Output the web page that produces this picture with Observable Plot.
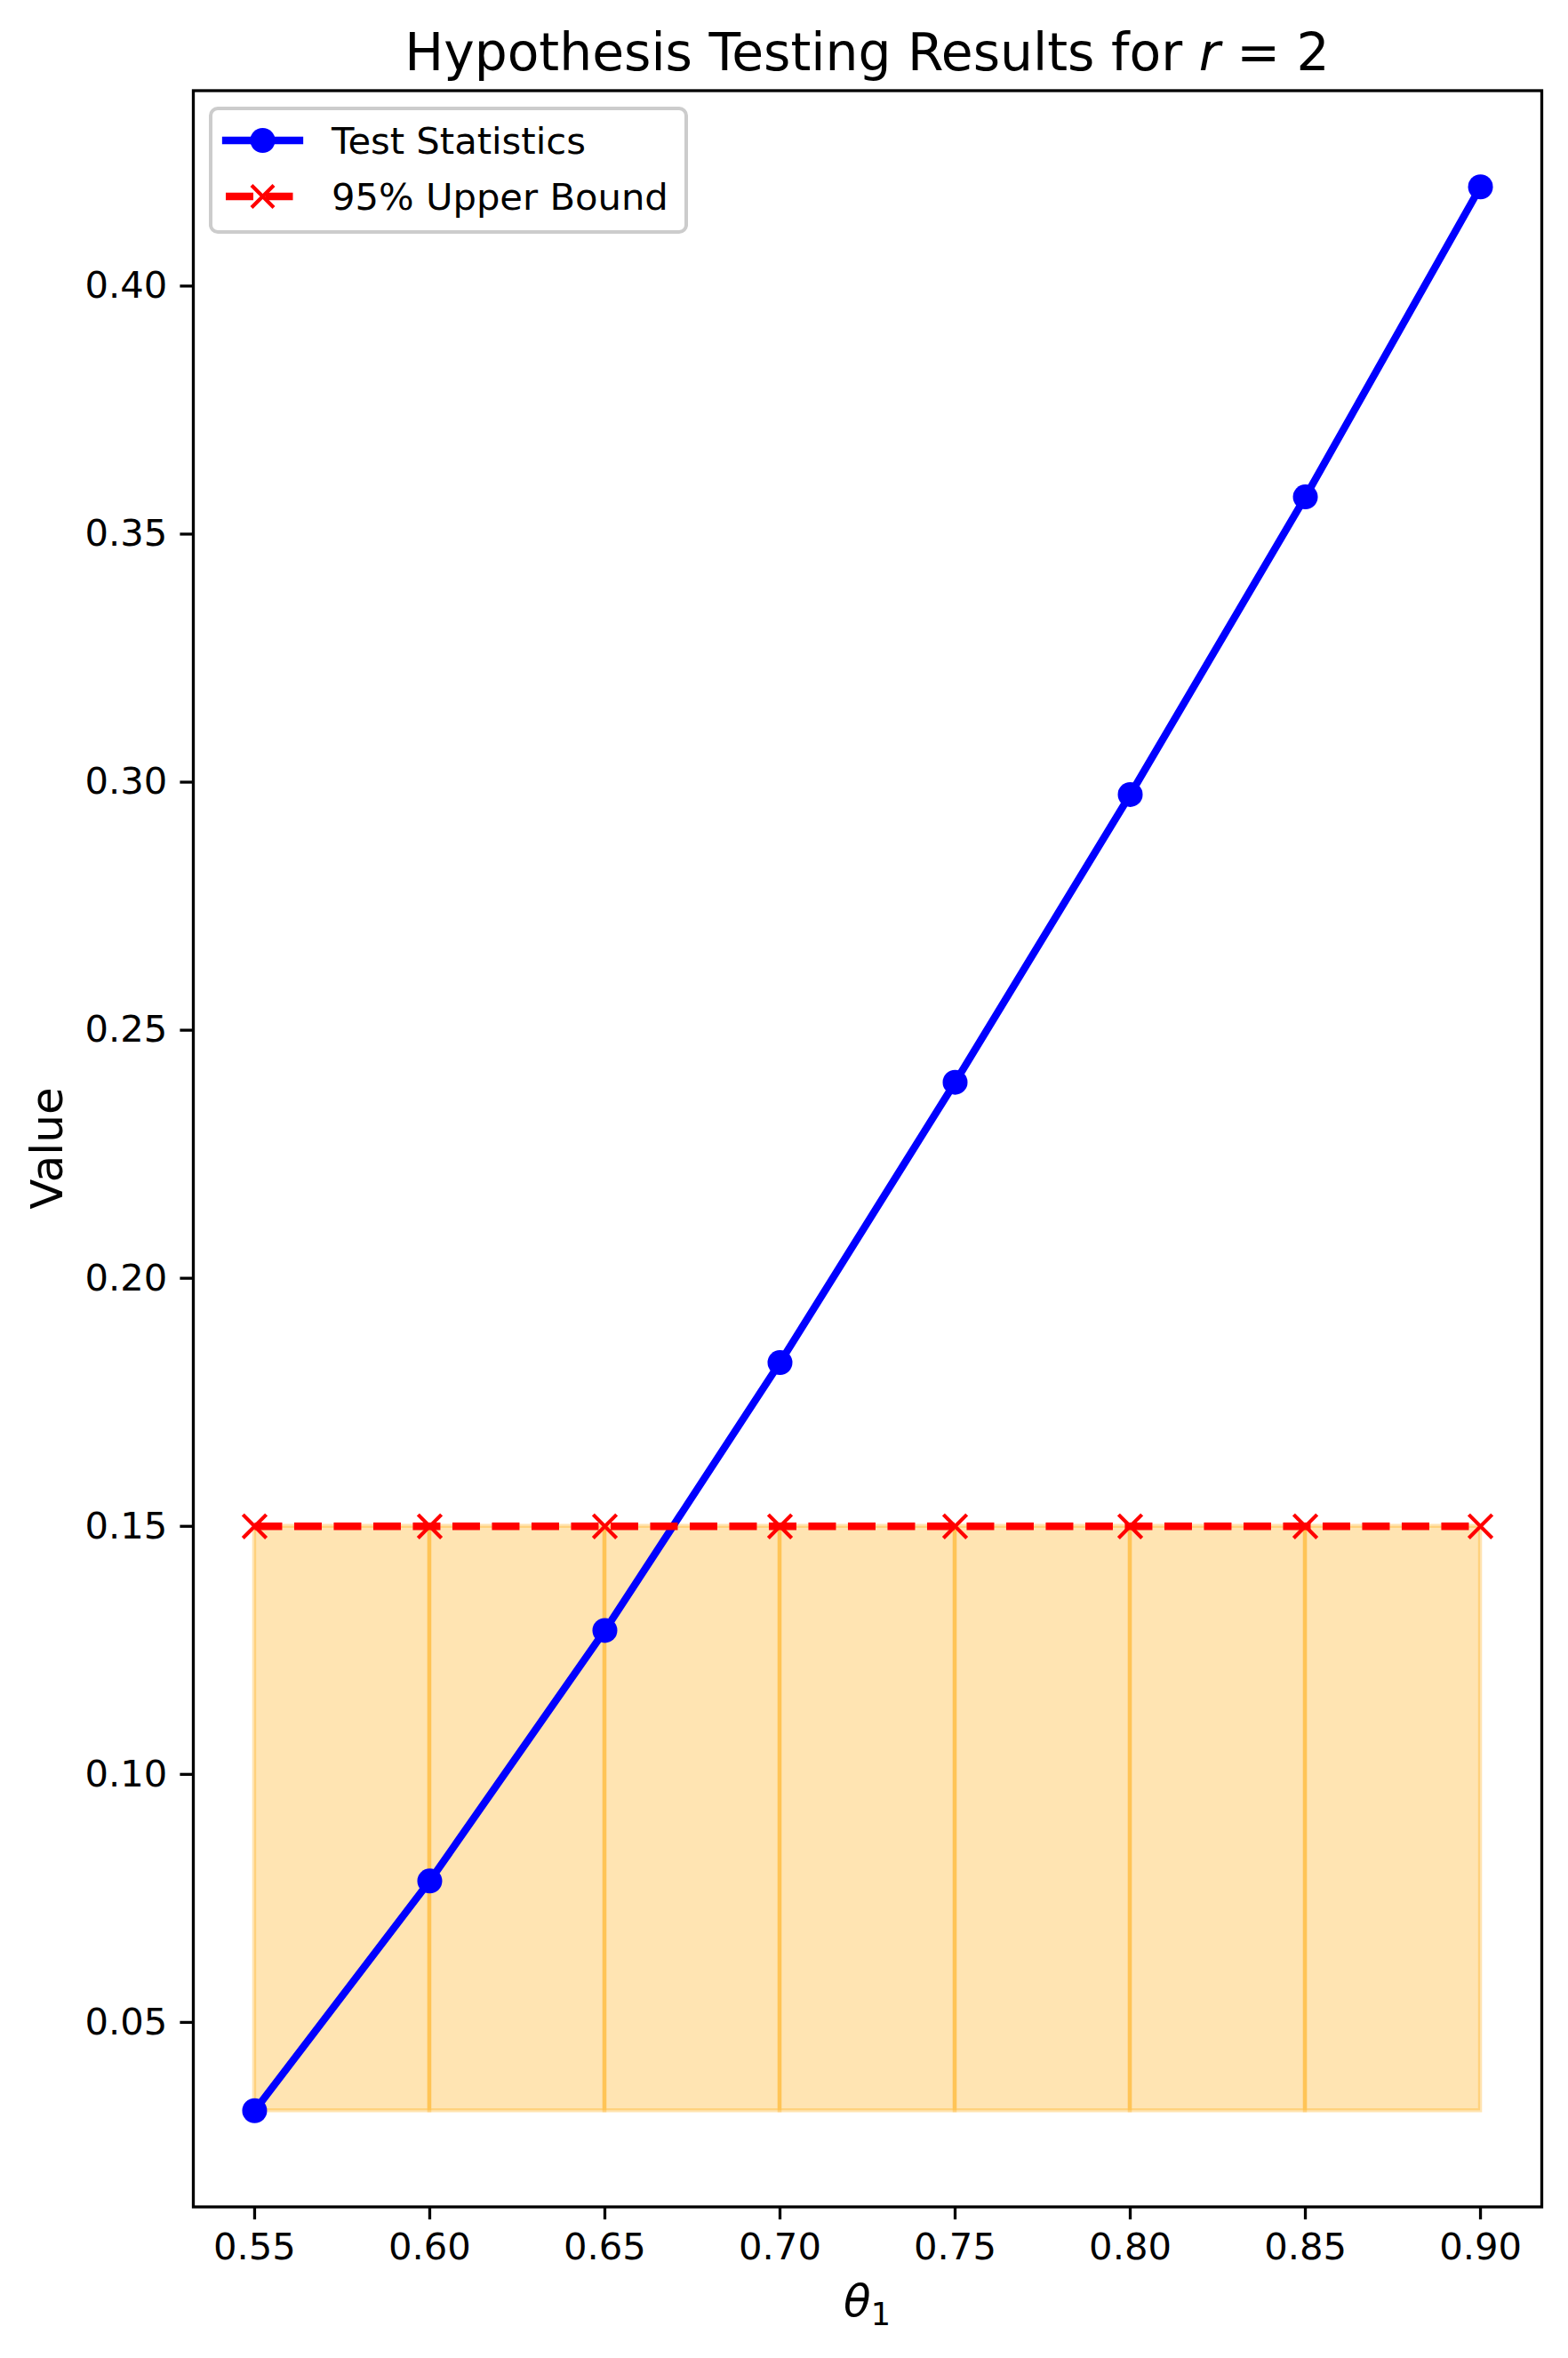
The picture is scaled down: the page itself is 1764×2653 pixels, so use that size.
<!DOCTYPE html>
<html>
<head>
<meta charset="utf-8">
<script src="https://cdn.jsdelivr.net/npm/d3@7"></script>
<script src="https://cdn.jsdelivr.net/npm/@observablehq/plot@0.6"></script>
<style>
  html, body { margin: 0; padding: 0; background: white; }
  svg { display: block; }
</style>
</head>
<body>
<div id="chart"></div>
<script>
const theta = [0.55, 0.60, 0.65, 0.70, 0.75, 0.80, 0.85, 0.90];
const testStats = [0.0322, 0.0785, 0.1290, 0.1830, 0.2395, 0.2975, 0.3575, 0.4200];
const upperBound = [0.15, 0.15, 0.15, 0.15, 0.15, 0.15, 0.15, 0.15];
const xTicks = [0.55, 0.60, 0.65, 0.70, 0.75, 0.80, 0.85, 0.90];
const yTicks = [0.05, 0.10, 0.15, 0.20, 0.25, 0.30, 0.35, 0.40];
const seriesNames = ["Test Statistics", "95% Upper Bound"];

const data = theta.map((t, i) => ({theta: t, stat: testStats[i], bound: upperBound[i]}));
const fillBottom = d3.min(testStats);
const segments = theta.slice(0, -1).map((t, i) => ({x1: t, x2: theta[i + 1], y1: fillBottom, y2: upperBound[i]}));

const W = 1764, H = 2653;
const mL = 217, mR = 30, mT = 101.5, mB = 170.5;
const xPad = (d3.max(theta) - d3.min(theta)) * 0.05;
const yPad = (d3.max(testStats) - d3.min(testStats)) * 0.05;

const chart = Plot.plot({
  width: W,
  height: H,
  marginLeft: mL,
  marginRight: mR,
  marginTop: mT,
  marginBottom: mB,
  style: {fontFamily: "DejaVu Sans", background: "white", color: "black"},
  x: {domain: [d3.min(theta) - xPad, d3.max(theta) + xPad]},
  y: {domain: [d3.min(testStats) - yPad, d3.max(testStats) + yPad]},
  marks: [
    Plot.rect(segments, {x1: "x1", x2: "x2", y1: "y1", y2: "y2", fill: "orange", fillOpacity: 0.3, stroke: "orange", strokeOpacity: 0.3, strokeWidth: 4.5}),
    Plot.line(data, {x: "theta", y: "stat", stroke: "blue", strokeWidth: 8.3}),
    Plot.dot(data, {x: "theta", y: "stat", r: 14, fill: "blue", stroke: "none"}),
    Plot.line(data, {x: "theta", y: "bound", stroke: "red", strokeWidth: 8.3, strokeDasharray: "31 13.5", strokeLinecap: "butt"}),
    Plot.dot(data, {x: "theta", y: "bound", symbol: "times", r: 12, stroke: "red", strokeWidth: 4.2}),
    Plot.axisX({ticks: xTicks, tickFormat: d3.format(".2f"), tickSize: 14.6, tickPadding: 14.6, fontSize: 41.7, label: null, strokeWidth: 3.3}),
    Plot.axisY({ticks: yTicks, tickFormat: d3.format(".2f"), tickSize: 14.6, tickPadding: 14.6, fontSize: 41.7, label: null, strokeWidth: 3.3}),
    Plot.frame({strokeWidth: 3.3, stroke: "black"})
  ]
});

document.getElementById("chart").appendChild(chart);

const svg = d3.select(chart);
const cx = (mL + (W - mR)) / 2;

// Title
const title = svg.append("text")
  .attr("x", cx).attr("y", 79)
  .attr("text-anchor", "middle")
  .attr("font-family", "DejaVu Sans")
  .attr("font-size", 58.3)
  .attr("fill", "black");
title.append("tspan").text("Hypothesis Testing Results for ");
title.append("tspan").attr("font-style", "italic").text("r");
title.append("tspan").text(" = 2");

// Y label
svg.append("text")
  .attr("transform", `translate(56,${(mT + H - mB) / 2}) rotate(-90)`)
  .attr("text-anchor", "middle")
  .attr("dominant-baseline", "middle")
  .attr("font-family", "DejaVu Sans")
  .attr("font-size", 50)
  .attr("fill", "black")
  .text("Value");

// X label
const xl = svg.append("text")
  .attr("x", cx).attr("y", 2606)
  .attr("text-anchor", "middle")
  .attr("font-family", "DejaVu Sans")
  .attr("font-size", 50)
  .attr("fill", "black");
xl.append("tspan").attr("font-style", "italic").text("θ");
xl.append("tspan").attr("font-size", 35).attr("dy", 10).text("1");

// Legend
const lg = svg.append("g");
lg.append("rect")
  .attr("x", 237).attr("y", 122).attr("width", 535).attr("height", 139)
  .attr("rx", 8).attr("fill", "white").attr("fill-opacity", 0.8)
  .attr("stroke", "#cccccc").attr("stroke-width", 4);
const rows = [
  {name: seriesNames[0], y: 158, color: "blue", dash: null, marker: "circle"},
  {name: seriesNames[1], y: 221, color: "red", dash: "31 13.5", marker: "x"}
];
const hx1 = 254, hx2 = 337, hc = (hx1 + hx2) / 2;
rows.forEach(r => {
  const ln = lg.append("line")
    .attr("x1", hx1).attr("x2", hx2).attr("y1", r.y).attr("y2", r.y)
    .attr("stroke", r.color).attr("stroke-width", 8.3);
  if (r.dash) ln.attr("stroke-dasharray", r.dash).attr("stroke-linecap", "butt");
  else ln.attr("stroke-linecap", "square");
  if (r.marker === "circle") {
    lg.append("circle").attr("cx", hc).attr("cy", r.y).attr("r", 14).attr("fill", r.color);
  } else {
    const s = 12.5;
    lg.append("path")
      .attr("d", `M${hc - s},${r.y - s}L${hc + s},${r.y + s}M${hc - s},${r.y + s}L${hc + s},${r.y - s}`)
      .attr("stroke", r.color).attr("stroke-width", 4.2).attr("fill", "none");
  }
  lg.append("text")
    .attr("x", 373).attr("y", r.y)
    .attr("text-anchor", "start")
    .attr("dominant-baseline", "central")
    .attr("font-family", "DejaVu Sans")
    .attr("font-size", 41.7)
    .attr("fill", "black")
    .text(r.name);
});
</script>
</body>
</html>
